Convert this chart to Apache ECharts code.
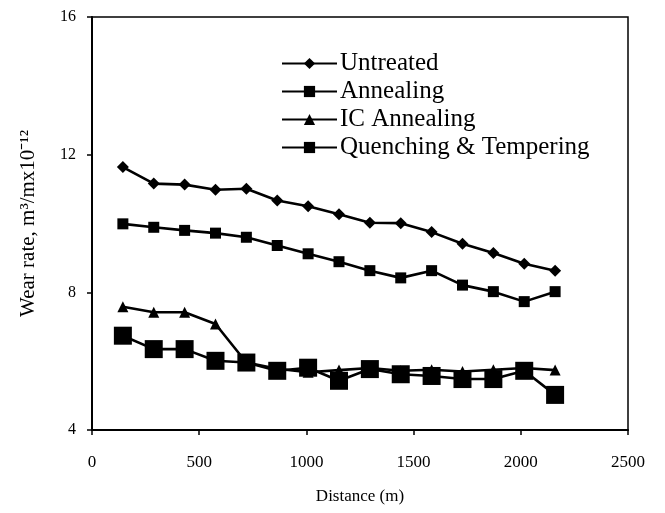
<!DOCTYPE html>
<html>
<head>
<meta charset="utf-8">
<script src="https://cdn.jsdelivr.net/npm/echarts@6/dist/echarts.min.js"></script>
<style>html,body{margin:0;padding:0;background:#fff}#c{width:665px;height:513px}</style>
</head>
<body>
<div id="c"></div>
<script>
const distance = [144, 288, 432, 576, 720, 864, 1008, 1152, 1296, 1440, 1584, 1728, 1872, 2016, 2160];
const untreated = [11.64, 11.16, 11.13, 10.98, 11.01, 10.67, 10.50, 10.27, 10.02, 10.01, 9.75, 9.41, 9.14, 8.83, 8.63];
const annealing = [9.99, 9.89, 9.80, 9.72, 9.60, 9.36, 9.12, 8.89, 8.63, 8.42, 8.63, 8.21, 8.02, 7.73, 8.02];
const icAnnealing = [7.58, 7.42, 7.42, 7.08, 5.96, 5.78, 5.68, 5.74, 5.80, 5.72, 5.75, 5.70, 5.75, 5.80, 5.74];
const quenching = [6.74, 6.35, 6.35, 6.01, 5.96, 5.72, 5.81, 5.43, 5.77, 5.62, 5.57, 5.48, 5.48, 5.72, 5.02];
const seriesNames = ['Untreated', 'Annealing', 'IC Annealing', 'Quenching & Tempering'];
const xTicks = [0, 500, 1000, 1500, 2000, 2500];
const yTicks = [4, 8, 12, 16];

const font = 'Liberation Serif';
function pairs(vals) { return distance.map((d, i) => [d, vals[i]]); }
function mk(name, vals, symbol, size) {
  return {
    name: name, type: 'line', data: pairs(vals), symbol: symbol, symbolSize: size,
    lineStyle: { color: '#000', width: 2.6 }, itemStyle: { color: '#000' },
    showAllSymbol: true, animation: false
  };
}
const chart = echarts.init(document.getElementById('c'));
chart.setOption({
  backgroundColor: '#fff',
  animation: false,
  grid: { left: 92, right: 37, top: 17, bottom: 83, show: true, borderColor: '#000', borderWidth: 1.5 },
  legend: {
    orient: 'vertical', left: 276, top: 46, itemWidth: 55, itemHeight: 14, itemGap: 3,
    textStyle: { fontFamily: font, fontSize: 25, color: '#000', padding: [0, 0, 0, -2] },
    data: seriesNames
  },
  xAxis: {
    type: 'value', min: xTicks[0], max: xTicks[xTicks.length - 1], interval: 500,
    name: 'Distance (m)', nameLocation: 'middle', nameGap: 58,
    nameTextStyle: { fontFamily: font, fontSize: 17, color: '#000' },
    axisLine: { show: true, onZero: false, lineStyle: { color: '#000', width: 2 } },
    axisTick: { show: true, inside: false, length: 5, lineStyle: { color: '#000', width: 1.5 } },
    axisLabel: { fontFamily: font, fontSize: 17, color: '#000', margin: 24, formatter: v => String(v) },
    splitLine: { show: false }
  },
  yAxis: {
    type: 'value', min: yTicks[0], max: yTicks[yTicks.length - 1], interval: 4,
    name: 'Wear rate, m\u00B3/mx10\u207B\u00B9\u00B2', nameLocation: 'middle', nameGap: 53,
    nameTextStyle: { fontFamily: font, fontSize: 21, color: '#000' },
    axisLine: { show: true, onZero: false, lineStyle: { color: '#000', width: 2 } },
    axisTick: { show: true, inside: false, length: 5, lineStyle: { color: '#000', width: 1.5 } },
    axisLabel: { fontFamily: font, fontSize: 16, color: '#000', margin: 16, formatter: v => String(v) },
    splitLine: { show: false }
  },
  series: [
    mk(seriesNames[0], untreated, 'diamond', 12),
    mk(seriesNames[1], annealing, 'rect', 11),
    mk(seriesNames[2], icAnnealing, 'triangle', 11),
    mk(seriesNames[3], quenching, 'rect', 18)
  ]
});
</script>
</body>
</html>
